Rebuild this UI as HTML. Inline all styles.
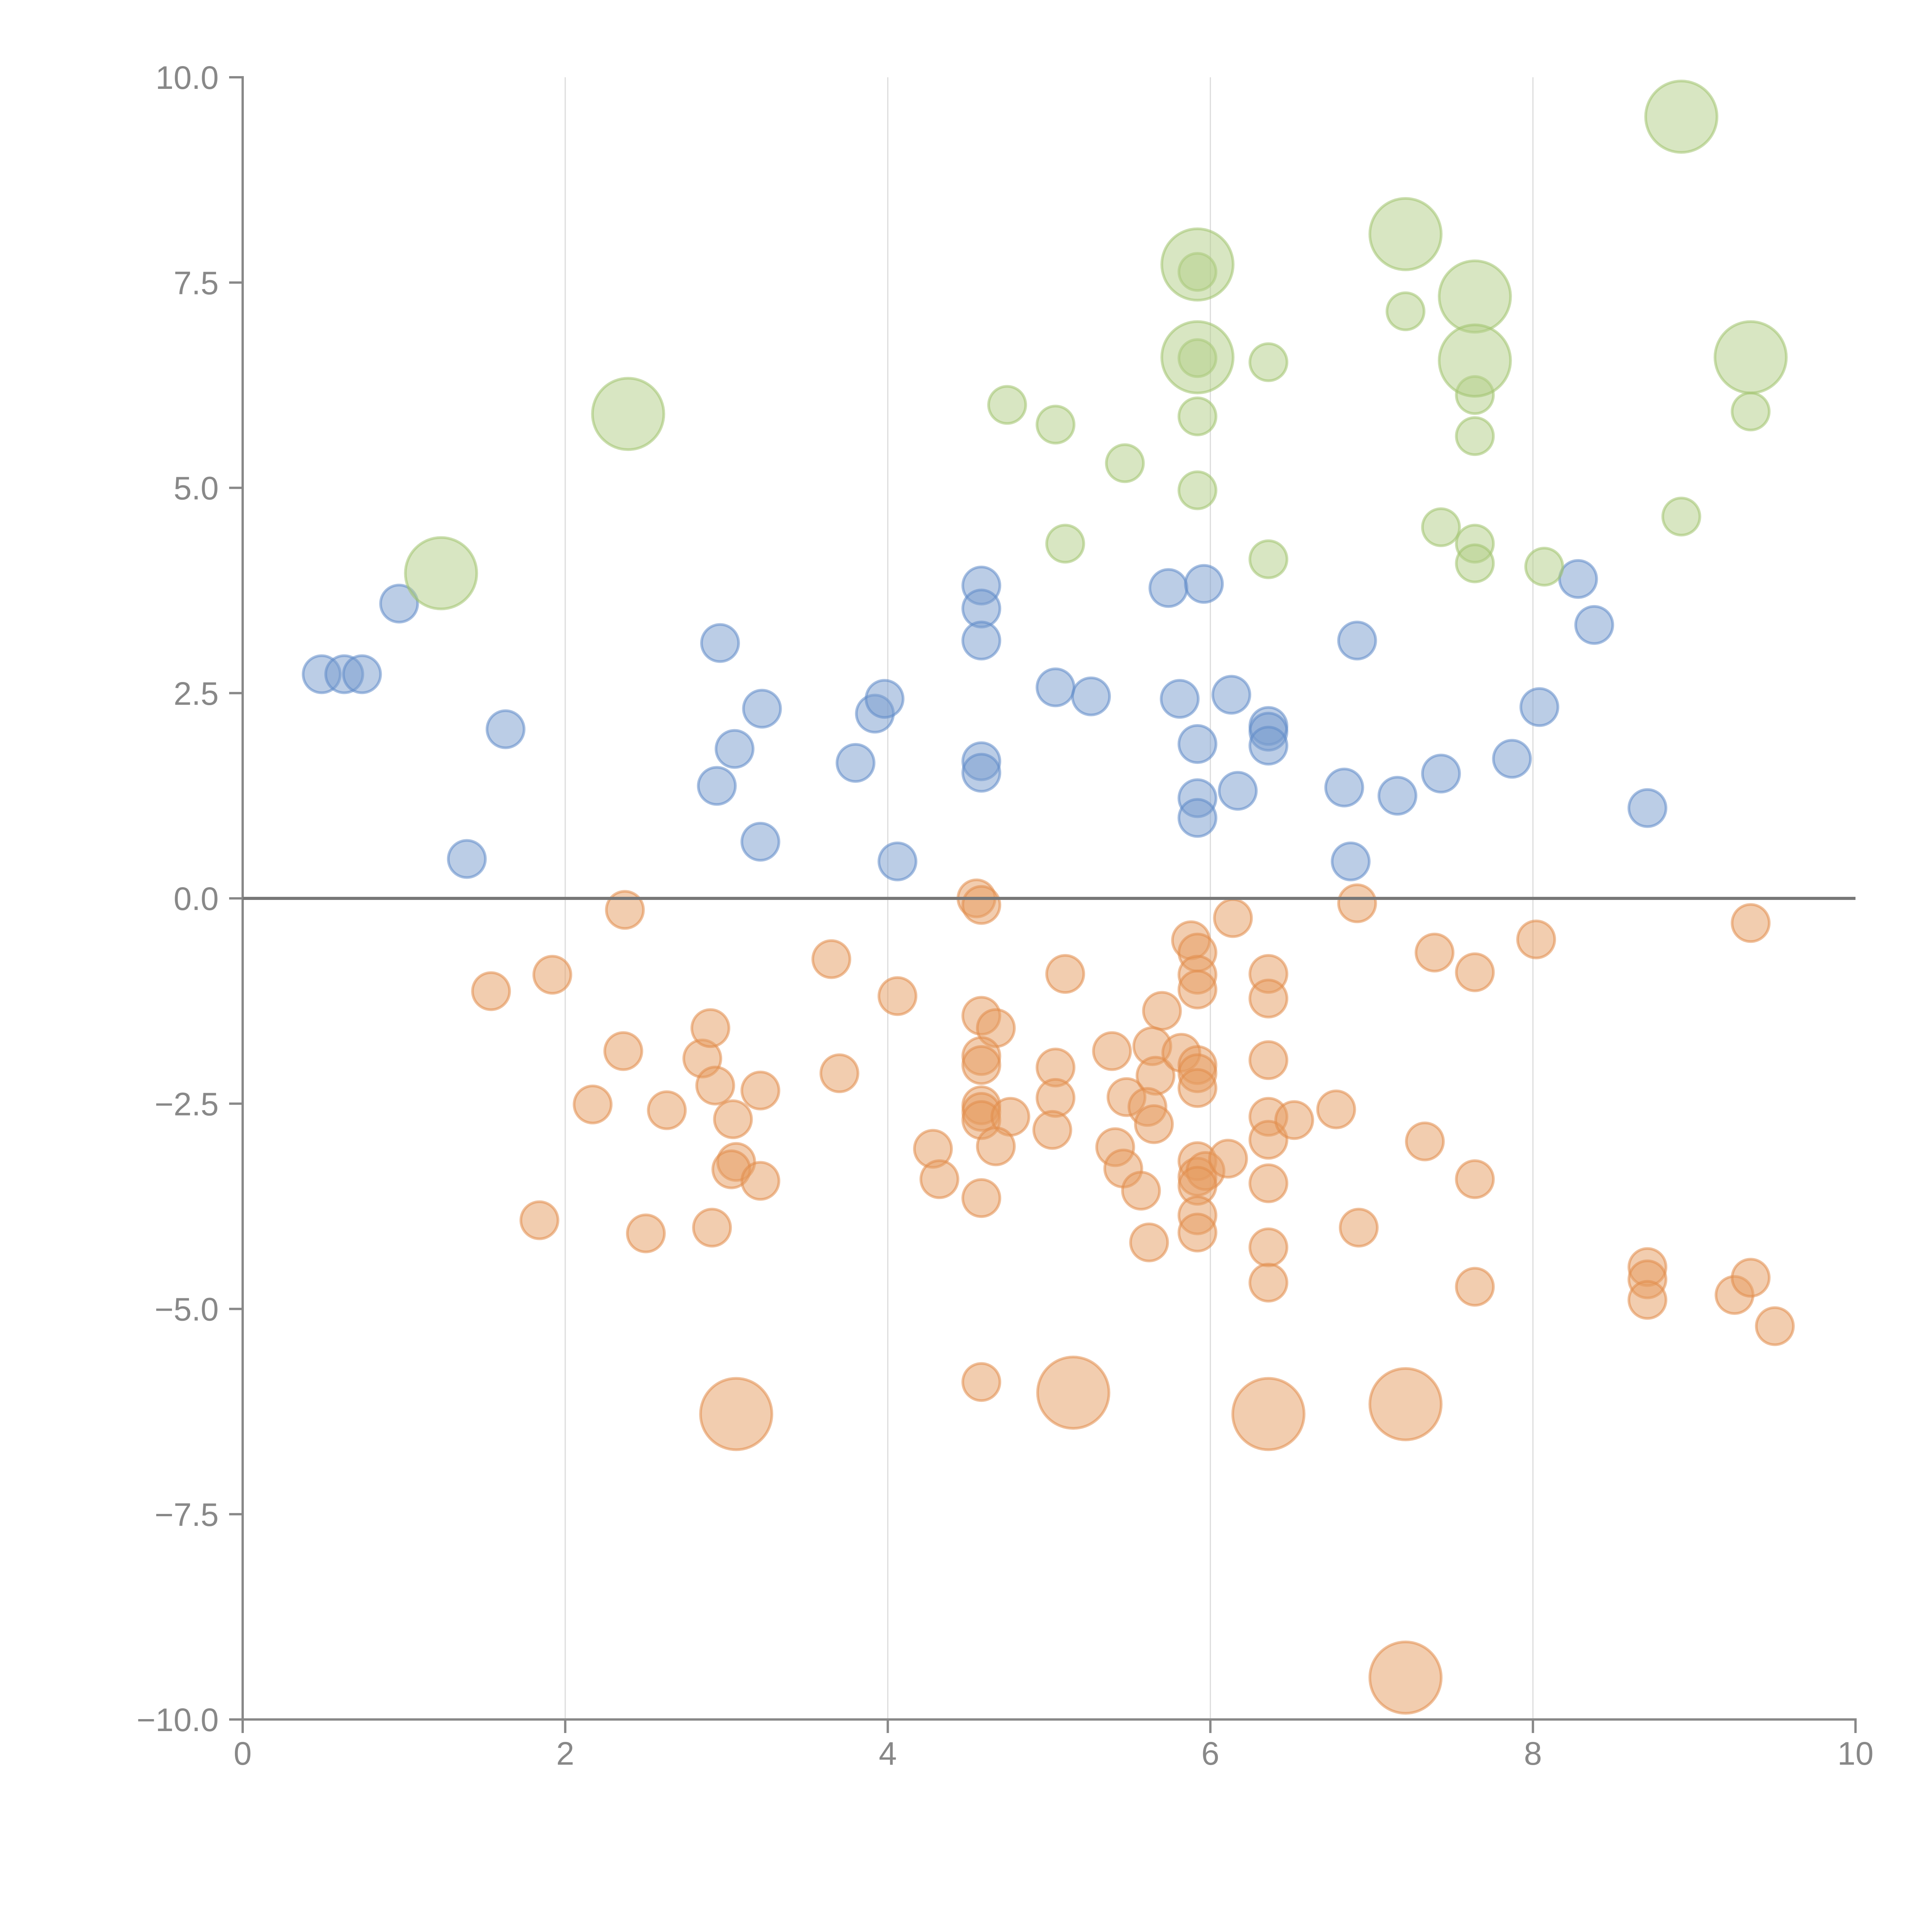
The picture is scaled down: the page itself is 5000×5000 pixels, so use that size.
<!DOCTYPE html>
<html><head><meta charset="utf-8"><title>Bubble scatter</title>
<style>html,body{margin:0;padding:0;background:#fff}svg{display:block}</style></head>
<body>
<svg id="chart" width="5000" height="5000" viewBox="0 0 5000 5000" xmlns="http://www.w3.org/2000/svg"></svg>
<script>
const xTicks=[0,2,4,6,8,10];
const xTickLabels=["0","2","4","6","8","10"];
const yTicks=[10,7.5,5,2.5,0,-2.5,-5,-7.5,-10];
const yTickLabels=["10.0","7.5","5.0","2.5","0.0","\u22122.5","\u22125.0","\u22127.5","\u221210.0"];

const blueX=[0.49,0.63,0.74,0.97,1.63,1.39,2.96,3.22,3.05,2.94,3.21,3.80,3.92,3.98,4.06,4.58,4.58,4.58,4.58,4.58,5.04,5.26,5.74,5.96,5.81,5.92,5.92,5.92,6.13,6.17,6.36,6.36,6.36,6.83,6.87,6.91,7.16,7.43,7.87,8.04,8.28,8.38,8.71];
const blueY=[2.73,2.73,2.73,3.59,2.06,0.48,3.11,2.31,1.82,1.37,0.69,1.65,2.25,2.43,0.45,3.81,3.53,3.14,1.67,1.53,2.57,2.46,3.78,3.83,2.43,1.88,1.22,0.98,2.48,1.31,2.10,2.03,1.86,1.35,0.45,3.14,1.25,1.52,1.70,2.33,3.89,3.33,1.10];

const greenX=[4.74,5.04,5.10,5.47,5.92,5.92,5.92,5.92,6.36,6.36,7.21,7.43,7.64,7.64,7.64,7.64,8.07,8.92,9.35, 1.23,2.39,5.92,5.92,7.21,7.64,7.64,8.92,9.35];
const greenY=[6.01,5.77,4.32,5.30,7.63,6.58,5.87,4.97,6.53,4.13,7.15,4.52,6.13,5.63,4.32,4.08,4.04,4.65,5.93, 3.96,5.90,7.72,6.59,8.09,7.33,6.55,9.52,6.59];
const greenS=[1,1,1,1,1,1,1,1,1,1,1,1,1,1,1,1,1,1,1, 3.7,3.7,3.7,3.7,3.7,3.7,3.7,3.7,3.7];

const orangeX=[2.37,1.54,1.92,1.84,2.17,2.36,2.50,2.63,2.85,2.90,2.93,2.91,3.04,3.06,3.03,3.21,3.21,3.65,3.70,4.06,4.28,4.32,4.55,4.58,4.58,4.67,4.58,4.58,4.58,4.58,4.58,4.76,4.67,4.58,4.58,5.10,5.04,5.04,5.02,5.39,5.41,5.46,5.48,5.57,5.62,5.70,5.64,5.66,5.61,5.65,5.82,5.88,5.92,5.92,5.92,5.92,5.92,5.92,5.92,5.92,5.97,5.92,5.92,5.92,6.11,6.14,6.36,6.36,6.36,6.36,6.36,6.36,6.36,6.36,6.52,6.78,6.91,6.92,7.33,7.39,7.64,7.64,7.64,8.02,8.71,8.71,8.71,9.25,9.35,9.35,9.50, 3.06,5.15,6.36,7.21,7.21];
const orangeY=[-0.14,-1.13,-0.93,-3.92,-2.51,-1.86,-4.08,-2.58,-1.95,-1.58,-2.28,-4.01,-2.69,-3.21,-3.30,-2.34,-3.44,-0.74,-2.13,-1.19,-3.05,-3.42,0.0,-0.08,-1.43,-1.58,-1.92,-2.03,-2.52,-2.60,-2.70,-2.66,-3.02,-3.65,-5.89,-0.92,-2.06,-2.43,-2.82,-1.86,-3.03,-3.29,-2.42,-3.56,-4.19,-1.37,-1.80,-2.16,-2.54,-2.75,-1.88,-0.51,-0.66,-0.93,-1.11,-2.03,-2.13,-2.31,-3.20,-3.39,-3.32,-3.50,-3.86,-4.07,-3.17,-0.24,-0.92,-1.22,-1.97,-2.66,-2.94,-3.47,-4.25,-4.68,-2.70,-2.57,-0.06,-4.01,-2.96,-0.66,-0.90,-3.42,-4.73,-0.50,-4.49,-4.64,-4.89,-4.83,-0.30,-4.62,-5.21, -6.28,-6.02,-6.28,-6.16,-9.49];
const orangeLarge=5;

const NS="http://www.w3.org/2000/svg";
const svg=document.getElementById('chart');
const X0=628,X1=4802,Y0=4450,Y1=200;
function sx(v){return X0+(v-0)/(10-0)*(X1-X0);}
function sy(v){return Y0-(v+10)/20*(Y0-Y1);}
function rr(s){return 48*Math.sqrt(s);}
function mk(tag,attrs){const e=document.createElementNS(NS,tag);for(const k in attrs)e.setAttribute(k,attrs[k]);svg.appendChild(e);return e;}

for(let i=1;i<xTicks.length-1;i++){
  const g=mk('line',{x1:sx(xTicks[i]),x2:sx(xTicks[i]),y1:Y1,y2:Y0,stroke:'#dcdcdc','stroke-width':3});
  
  
}
const ya=mk('line',{x1:X0,x2:X0,y1:Y1-3,y2:Y0+3,stroke:'#888','stroke-width':6});


const xa=mk('line',{x1:X0-3,x2:X1+3,y1:Y0,y2:Y0,stroke:'#888','stroke-width':6});


xTicks.forEach((v,i)=>{
  const t=mk('line',{x1:sx(v),x2:sx(v),y1:Y0,y2:Y0+35,stroke:'#888','stroke-width':6});
  
  
  const l=mk('text',{x:sx(v),y:4567,'text-anchor':'middle','font-family':'Liberation Sans, sans-serif','font-size':84,fill:'#888'});
  l.textContent=xTickLabels[i];
  
  
});
yTicks.forEach((v,i)=>{
  const t=mk('line',{x1:X0-35,x2:X0,y1:sy(v),y2:sy(v),stroke:'#888','stroke-width':6});
  
  
  const l=mk('text',{x:566,y:sy(v)+30,'text-anchor':'end','font-family':'Liberation Sans, sans-serif','font-size':84,fill:'#888'});
  l.textContent=yTickLabels[i];
  
  
});
function series(xs,ys,sizes,fill,stroke,name){
  xs.forEach((x,i)=>{
    const c=mk('circle',{cx:sx(x),cy:sy(ys[i]),r:rr(sizes[i]),fill:fill,stroke:stroke,'stroke-width':7});
    
    
  });
}
series(blueX,blueY,blueX.map(()=>1),'rgba(120,156,206,0.5)','rgba(95,138,200,0.55)','blue-bubble');
series(greenX,greenY,greenS,'rgba(178,206,134,0.5)','rgba(160,195,110,0.55)','green-bubble');
series(orangeX,orangeY,orangeX.map((_,i)=>i>=orangeX.length-orangeLarge?3.7:1),'rgba(230,155,95,0.5)','rgba(225,140,75,0.55)','orange-bubble');
const z=mk('line',{x1:X0,x2:X1,y1:sy(0),y2:sy(0),stroke:'#777','stroke-width':8});


</script>
</body></html>
